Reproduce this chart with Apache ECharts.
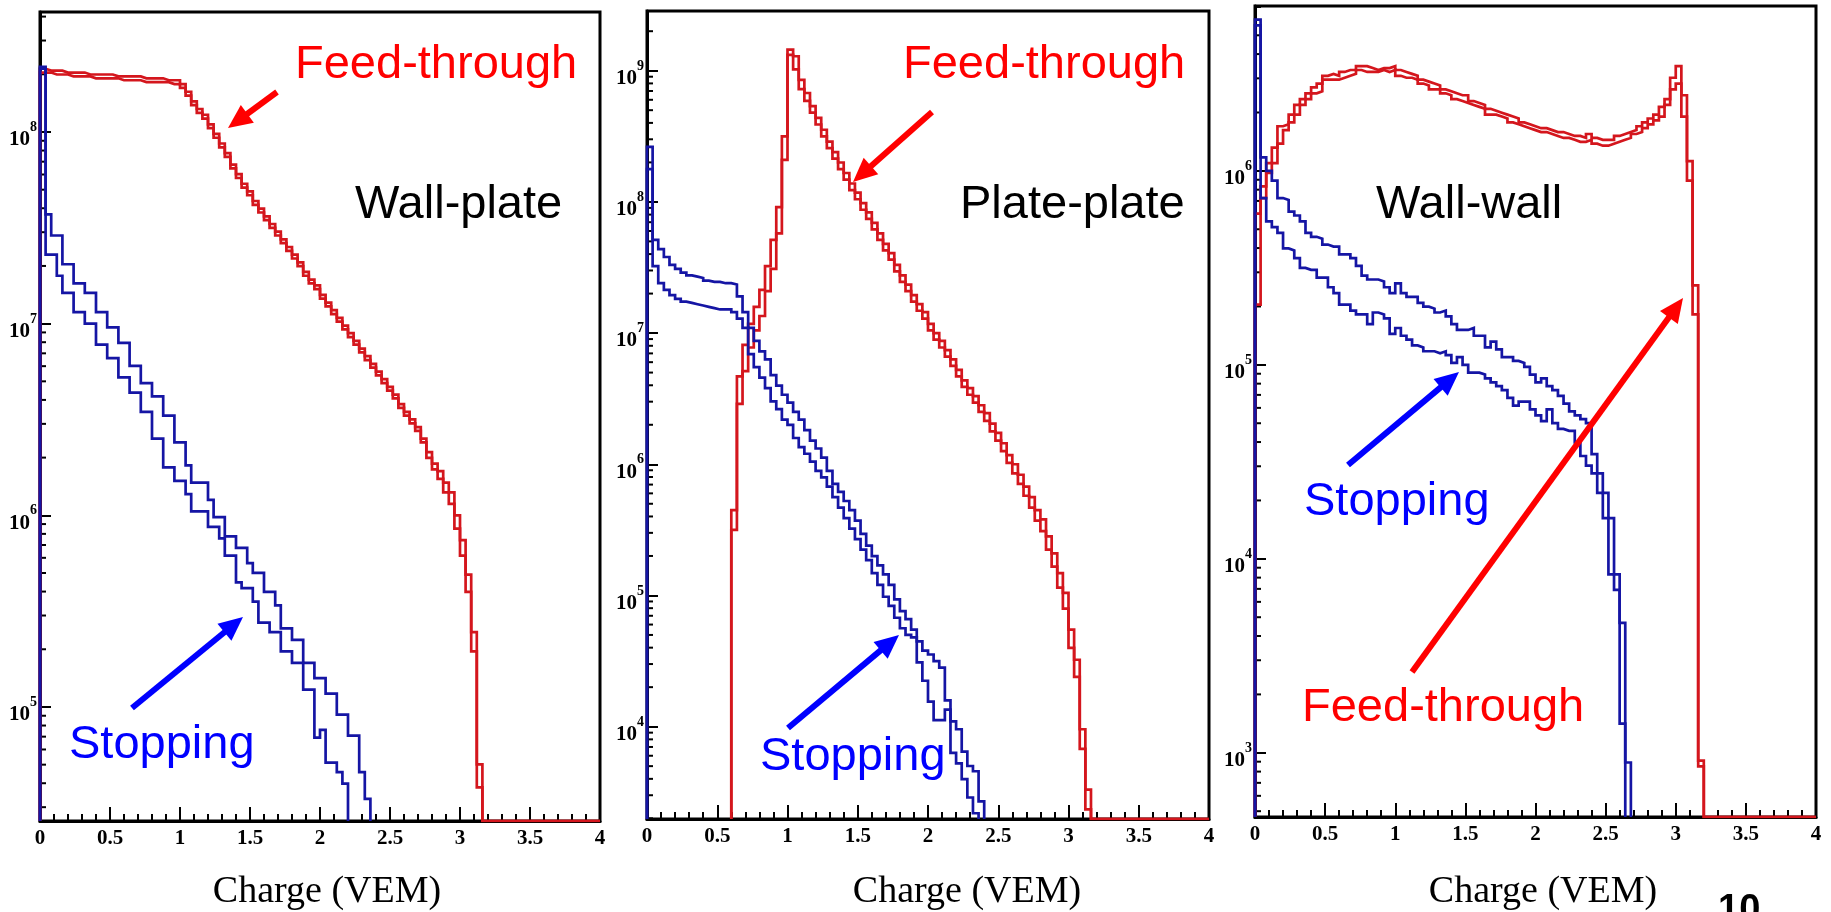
<!DOCTYPE html>
<html>
<head>
<meta charset="utf-8">
<script src="https://cdn.jsdelivr.net/npm/echarts@6/dist/echarts.min.js"></script>
<style>
  html, body { margin: 0; padding: 0; background: #ffffff; }
  #chart { width: 1831px; height: 912px; }
</style>
</head>
<body>
<div id="chart"></div>
<script>
// Charge spectra, 0.04 VEM bins starting at 0 VEM.
// Every entry is log10(counts) of one bin; null marks an empty bin.
const BIN_WIDTH = 0.04;
const CHARGE_MAX = 4;

const panelTitles = ['Wall-plate', 'Plate-plate', 'Wall-wall'];
const axisTitle = 'Charge (VEM)';
const chargeTickLabels = ['0', '0.5', '1', '1.5', '2', '2.5', '3', '3.5', '4'];

// ---- Wall-plate ----
const wallPlateFeedA = [
  8.33, 8.32, 8.32, 8.32, 8.31, 8.31, 8.31, 8.31, 8.30, 8.30,
  8.30, 8.30, 8.30, 8.29, 8.29, 8.29, 8.29, 8.29, 8.28, 8.28,
  8.28, 8.28, 8.27, 8.27, 8.27, 8.25, 8.21, 8.16, 8.12, 8.09,
  8.04, 7.99, 7.94, 7.89, 7.83, 7.78, 7.73, 7.69, 7.64, 7.60,
  7.56, 7.52, 7.48, 7.44, 7.40, 7.36, 7.32, 7.27, 7.23, 7.20,
  7.15, 7.11, 7.07, 7.03, 6.99, 6.95, 6.91, 6.87, 6.83, 6.79,
  6.75, 6.71, 6.67, 6.63, 6.58, 6.54, 6.50, 6.46, 6.40, 6.33,
  6.27, 6.23, 6.17, 6.12, 6.00, 5.87, 5.69, 5.39, 4.70
];
const wallPlateFeedB = [
  8.31, 8.31, 8.30, 8.30, 8.30, 8.29, 8.29, 8.29, 8.29, 8.28,
  8.28, 8.28, 8.28, 8.28, 8.27, 8.27, 8.27, 8.27, 8.26, 8.26,
  8.26, 8.26, 8.26, 8.25, 8.25, 8.23, 8.19, 8.14, 8.10, 8.07,
  8.02, 7.97, 7.92, 7.87, 7.81, 7.76, 7.71, 7.67, 7.62, 7.58,
  7.54, 7.50, 7.46, 7.42, 7.38, 7.34, 7.30, 7.25, 7.21, 7.18,
  7.13, 7.09, 7.05, 7.01, 6.97, 6.93, 6.89, 6.85, 6.81, 6.77,
  6.73, 6.69, 6.65, 6.61, 6.56, 6.52, 6.48, 6.44, 6.38, 6.30,
  6.24, 6.19, 6.12, 6.06, 5.93, 5.79, 5.60, 5.29, 4.58
];
const wallPlateStopA = [
  8.34, 7.57, 7.46, 7.46, 7.31, 7.31, 7.21, 7.21, 7.16, 7.16,
  7.06, 7.06, 6.98, 6.98, 6.90, 6.90, 6.78, 6.78, 6.69, 6.69,
  6.62, 6.62, 6.52, 6.52, 6.38, 6.38, 6.26, 6.17, 6.17, 6.17,
  6.08, 5.99, 5.99, 5.89, 5.89, 5.83, 5.83, 5.75, 5.70, 5.70,
  5.60, 5.60, 5.53, 5.41, 5.41, 5.35, 5.35, 5.23, 5.23, 5.15,
  5.15, 5.07, 5.07, 4.96, 4.96, 4.85, 4.85, 4.66, 4.52
];
const wallPlateStopB = [
  8.33, 7.36, 7.36, 7.25, 7.16, 7.16, 7.06, 7.06, 7.00, 7.00,
  6.89, 6.89, 6.82, 6.82, 6.72, 6.72, 6.64, 6.64, 6.54, 6.54,
  6.40, 6.40, 6.25, 6.25, 6.18, 6.18, 6.11, 6.02, 6.02, 6.02,
  5.94, 5.94, 5.88, 5.79, 5.79, 5.65, 5.62, 5.62, 5.55, 5.44,
  5.44, 5.39, 5.39, 5.29, 5.29, 5.23, 5.23, 5.09, 5.09, 4.84,
  4.88, 4.71, 4.71, 4.66, 4.60
];

// ---- Plate-plate ----
const platePlateFeedA = [
  null, null, null, null, null, null, null, null, null, null,
  null, null, null, null, null,
  5.65, 6.67, 6.91, 7.07, 7.20, 7.33, 7.51, 7.71, 7.96, 8.50,
  9.16, 9.11, 8.93, 8.83, 8.73, 8.64, 8.55, 8.46, 8.38, 8.30,
  8.22, 8.14, 8.07, 7.99, 7.92, 7.84, 7.76, 7.68, 7.61, 7.52,
  7.44, 7.37, 7.29, 7.22, 7.16, 7.07, 7.00, 6.94, 6.87, 6.80,
  6.72, 6.64, 6.58, 6.52, 6.45, 6.39, 6.31, 6.24, 6.16, 6.07,
  6.00, 5.92, 5.83, 5.75, 5.65, 5.58, 5.45, 5.32, 5.17, 5.02,
  4.74, 4.51, 3.98, 3.52
];
const platePlateFeedB = [
  null, null, null, null, null, null, null, null, null, null,
  null, null, null, null, null,
  5.50, 6.46, 6.71, 6.89, 7.02, 7.13, 7.32, 7.49, 7.76, 8.32,
  9.12, 9.01, 8.86, 8.77, 8.68, 8.59, 8.50, 8.41, 8.33, 8.25,
  8.17, 8.09, 8.02, 7.94, 7.87, 7.79, 7.71, 7.63, 7.56, 7.47,
  7.39, 7.32, 7.24, 7.17, 7.11, 7.02, 6.95, 6.89, 6.82, 6.75,
  6.67, 6.59, 6.53, 6.47, 6.40, 6.33, 6.25, 6.18, 6.10, 6.01,
  5.93, 5.85, 5.76, 5.67, 5.57, 5.49, 5.35, 5.22, 5.06, 4.90,
  4.60, 4.38, 3.83, 3.37
];
const platePlateStopA = [
  8.42, 7.71, 7.64, 7.58, 7.52, 7.49, 7.46, 7.44, 7.43, 7.42,
  7.40, 7.39, 7.39, 7.38, 7.38, 7.37, 7.28, 7.16, 7.04, 6.94,
  6.86, 6.80, 6.68, 6.60, 6.53, 6.47, 6.40, 6.34, 6.26, 6.18,
  6.12, 6.05, 5.95, 5.85, 5.79, 5.72, 5.65, 5.57, 5.47, 5.38,
  5.30, 5.23, 5.16, 5.08, 4.97, 4.88, 4.82, 4.74, 4.65, 4.58,
  4.55, 4.50, 4.45, 4.20, 4.04, 3.98, 3.81, 3.70, 3.66, 3.43
];
const platePlateStopB = [
  8.25, 7.51, 7.38, 7.33, 7.29, 7.26, 7.24, 7.23, 7.22, 7.21,
  7.20, 7.19, 7.18, 7.18, 7.18, 7.16, 7.11, 7.04, 6.84, 6.74,
  6.66, 6.58, 6.48, 6.42, 6.34, 6.30, 6.20, 6.13, 6.08, 6.02,
  5.95, 5.90, 5.83, 5.75, 5.67, 5.59, 5.51, 5.43, 5.35, 5.27,
  5.17, 5.08, 4.99, 4.92, 4.83, 4.75, 4.70, 4.68, 4.49, 4.35,
  4.19, 4.05, 4.05, 4.13, 3.80, 3.72, 3.60, 3.46, 3.34
];

// ---- Wall-wall ----
const wallWallFeedA = [
  5.78, 5.92, 6.04, 6.12, 6.23, 6.24, 6.29, 6.34, 6.37, 6.40,
  6.43, 6.45, 6.49, 6.50, 6.49, 6.51, 6.52, 6.52, 6.54, 6.54,
  6.53, 6.52, 6.53, 6.53, 6.54, 6.52, 6.51, 6.50, 6.49, 6.47,
  6.46, 6.45, 6.44, 6.42, 6.41, 6.40, 6.39, 6.39, 6.36, 6.35,
  6.34, 6.32, 6.31, 6.30, 6.29, 6.28, 6.27, 6.25, 6.24, 6.23,
  6.22, 6.22, 6.21, 6.20, 6.20, 6.19, 6.18, 6.18, 6.17, 6.19,
  6.17, 6.16, 6.16, 6.16, 6.18, 6.19, 6.20, 6.21, 6.23, 6.25,
  6.27, 6.29, 6.33, 6.37, 6.48, 6.54, 6.39, 6.05, 5.41, 2.96
];
const wallWallFeedB = [
  5.31, 5.86, 5.99, 6.04, 6.14, 6.21, 6.25, 6.29, 6.34, 6.37,
  6.40, 6.41, 6.47, 6.47, 6.47, 6.48, 6.49, 6.50, 6.52, 6.51,
  6.51, 6.51, 6.52, 6.51, 6.52, 6.49, 6.48, 6.48, 6.47, 6.45,
  6.44, 6.42, 6.42, 6.40, 6.39, 6.37, 6.36, 6.35, 6.34, 6.33,
  6.32, 6.29, 6.29, 6.28, 6.27, 6.25, 6.24, 6.23, 6.22, 6.21,
  6.20, 6.20, 6.19, 6.18, 6.17, 6.17, 6.16, 6.15, 6.15, 6.16,
  6.14, 6.13, 6.13, 6.14, 6.15, 6.16, 6.17, 6.19, 6.20, 6.22,
  6.24, 6.26, 6.28, 6.34, 6.42, 6.45, 6.28, 5.95, 5.26, 2.93
];
const wallWallStopA = [
  6.78, 6.07, 6.00, 5.95, 5.86, 5.85, 5.79, 5.77, 5.74, 5.68,
  5.66, 5.65, 5.62, 5.61, 5.61, 5.57, 5.57, 5.55, 5.51, 5.46,
  5.44, 5.44, 5.43, 5.40, 5.37, 5.42, 5.37, 5.35, 5.35, 5.32,
  5.30, 5.29, 5.27, 5.28, 5.25, 5.21, 5.18, 5.18, 5.19, 5.15,
  5.15, 5.09, 5.12, 5.08, 5.04, 5.04, 5.02, 5.01, 4.99, 4.95,
  4.91, 4.93, 4.89, 4.87, 4.84, 4.80, 4.76, 4.74, 4.72, 4.70,
  4.54, 4.44, 4.34, 4.21, 3.92, 3.67, 2.95
];
const wallWallStopB = [
  6.75, 5.86, 5.74, 5.71, 5.68, 5.60, 5.59, 5.55, 5.50, 5.49,
  5.49, 5.45, 5.45, 5.40, 5.37, 5.31, 5.31, 5.28, 5.26, 5.26,
  5.21, 5.27, 5.26, 5.24, 5.16, 5.19, 5.15, 5.13, 5.10, 5.09,
  5.07, 5.07, 5.06, 5.07, 5.05, 5.01, 5.04, 5.00, 4.96, 4.96,
  4.95, 4.93, 4.91, 4.89, 4.87, 4.83, 4.79, 4.81, 4.81, 4.77,
  4.74, 4.71, 4.77, 4.70, 4.67, 4.66, 4.66, 4.60, 4.53, 4.48,
  4.44, 4.34, 4.21, 3.92, 3.84, 3.15
];

// Visible log10 range of each panel's count axis
const countRanges = [[4.405, 8.626], [3.296, 9.455], [2.669, 6.85]];

const histograms = [
  { feed: [wallPlateFeedA, wallPlateFeedB], stop: [wallPlateStopA, wallPlateStopB] },
  { feed: [platePlateFeedA, platePlateFeedB], stop: [platePlateStopA, platePlateStopB] },
  { feed: [wallWallFeedA, wallWallFeedB], stop: [wallWallStopA, wallWallStopB] }
];

// ---- layout and style ----
const grids = [
  { left: 40, top: 12, width: 560, height: 809 },
  { left: 647, top: 11, width: 562, height: 808 },
  { left: 1255, top: 6, width: 561, height: 811 }
];
const FEED_LINE = '#d4161d';
const STOP_LINE = '#1515a4';
const RED = '#ff0000';
const BLUE = '#0000ff';

// Outline of a histogram: empty bins rest on the bottom of the frame.
function histogramOutline(logCounts, floorCount, runToEnd) {
  const first = logCounts.findIndex(v => v != null);
  const edge = i => Math.round(i * BIN_WIDTH * 1000) / 1000;
  const pts = [[edge(first), floorCount]];
  for (let i = first; i < logCounts.length; i++) {
    const v = logCounts[i];
    pts.push([edge(i), v == null ? floorCount : Math.pow(10, v)]);
  }
  pts.push([edge(logCounts.length), floorCount]);
  if (runToEnd) pts.push([CHARGE_MAX, floorCount]);
  return pts;
}

function minorCountTicks(lo, hi) {
  const out = [];
  for (let n = Math.floor(lo); n <= Math.ceil(hi); n++) {
    for (let k = 2; k <= 9; k++) {
      const lv = Math.log10(k) + n;
      if (lv > lo && lv < hi) out.push([0, Math.pow(10, lv)]);
    }
  }
  return out;
}

const serif = '"Liberation Serif", "Times New Roman", serif';
const sans = '"Liberation Sans", Arial, sans-serif';

const option = {
  animation: false,
  backgroundColor: '#ffffff',
  grid: grids.map(g => ({
    left: g.left, top: g.top, width: g.width, height: g.height,
    show: true, borderColor: '#000', borderWidth: 3,
    backgroundColor: 'transparent', containLabel: false, outerBoundsMode: 'none'
  })),
  xAxis: grids.map((g, i) => ({
    gridIndex: i, type: 'value', min: 0, max: CHARGE_MAX, interval: 0.5,
    axisLine: { show: true, onZero: false, lineStyle: { color: '#000', width: 3 } },
    axisTick: { show: true, inside: true, length: 14, lineStyle: { color: '#000', width: 2 } },
    minorTick: { show: true, splitNumber: 5, length: 7, lineStyle: { color: '#000', width: 2 } },
    splitLine: { show: false }, minorSplitLine: { show: false },
    axisLabel: {
      show: true, margin: 7, color: '#000', fontFamily: serif, fontWeight: 'bold', fontSize: 21,
      formatter: v => chargeTickLabels[Math.round(v / 0.5)] ?? ''
    }
  })),
  yAxis: grids.map((g, i) => ({
    gridIndex: i, type: 'log', logBase: 10,
    min: Math.pow(10, countRanges[i][0]), max: Math.pow(10, countRanges[i][1]),
    axisLine: { show: true, onZero: false, lineStyle: { color: '#000', width: 3 } },
    axisTick: { show: true, inside: true, length: 11, lineStyle: { color: '#000', width: 2 } },
    minorTick: { show: false }, splitLine: { show: false },
    axisLabel: {
      show: true, margin: 3, padding: [7, 0, 0, 0],
      formatter: v => {
        const e = Math.log10(v);
        const r = Math.round(e);
        return Math.abs(e - r) < 1e-6 ? '{b|10}{e|' + r + '}' : '';
      },
      rich: {
        b: { fontFamily: serif, fontWeight: 'bold', fontSize: 21, color: '#000', lineHeight: 30, height: 21, verticalAlign: 'bottom' },
        e: { fontFamily: serif, fontWeight: 'bold', fontSize: 14, color: '#000', lineHeight: 15, verticalAlign: 'top' }
      }
    }
  })),
  series: [],
  graphic: { elements: [] }
};

grids.forEach((g, i) => {
  const floorCount = Math.pow(10, countRanges[i][0]);
  option.series.push({
    type: 'custom', xAxisIndex: i, yAxisIndex: i, silent: true, clip: false,
    data: minorCountTicks(countRanges[i][0], countRanges[i][1]),
    encode: { x: 0, y: 1 },
    renderItem: (params, api) => {
      const p = api.coord([0, api.value(1)]);
      return { type: 'line', shape: { x1: p[0], y1: p[1], x2: p[0] + 6, y2: p[1] },
               style: { stroke: '#000', lineWidth: 2 } };
    }
  });
  const lineSeries = (data, color) => ({
    type: 'line', xAxisIndex: i, yAxisIndex: i, data: data, step: 'end',
    showSymbol: false, symbol: 'none', silent: true, clip: true, z: 3,
    lineStyle: { color: color, width: 2.7, join: 'miter', cap: 'butt' },
    itemStyle: { color: color }, emphasis: { disabled: true }
  });
  histograms[i].feed.forEach(h => option.series.push(lineSeries(histogramOutline(h, floorCount, true), FEED_LINE)));
  histograms[i].stop.forEach(h => option.series.push(lineSeries(histogramOutline(h, floorCount, false), STOP_LINE)));
});

// Annotation labels and arrows
const labels = [
  { text: 'Feed-through', x: 295, y: 65, color: RED },
  { text: panelTitles[0], x: 355, y: 205, color: '#000' },
  { text: 'Stopping', x: 69, y: 745, color: BLUE },
  { text: 'Feed-through', x: 903, y: 65, color: RED },
  { text: panelTitles[1], x: 960, y: 205, color: '#000' },
  { text: 'Stopping', x: 760, y: 757, color: BLUE },
  { text: panelTitles[2], x: 1376, y: 205, color: '#000' },
  { text: 'Stopping', x: 1304, y: 502, color: BLUE },
  { text: 'Feed-through', x: 1302, y: 708, color: RED }
];
const arrows = [
  { from: [277, 92], to: [228, 128], color: RED },
  { from: [132, 708], to: [243, 617], color: BLUE },
  { from: [932, 112], to: [853, 182], color: RED },
  { from: [788, 728], to: [899, 635], color: BLUE },
  { from: [1348, 465], to: [1459, 372], color: BLUE },
  { from: [1412, 672], to: [1683, 298], color: RED }
];
const axisTitleCenters = [327, 967, 1543];

labels.forEach(l => option.graphic.elements.push({
  type: 'text', x: l.x, y: l.y, z: 20, silent: true,
  style: { text: l.text, font: '47px ' + sans, fill: l.color, textAlign: 'left', textVerticalAlign: 'middle' }
}));
axisTitleCenters.forEach(cx => option.graphic.elements.push({
  type: 'text', x: cx, y: 892, z: 20, silent: true,
  style: { text: axisTitle, font: '38px ' + serif, fill: '#000', textAlign: 'center', textVerticalAlign: 'middle' }
}));
option.graphic.elements.push({
  type: 'text', x: 1718, y: 911, z: 20, silent: true,
  style: { text: '10', font: 'bold 38px ' + sans, fill: '#000', textAlign: 'left', textVerticalAlign: 'middle' }
});
arrows.forEach(a => {
  const dx = a.to[0] - a.from[0], dy = a.to[1] - a.from[1];
  const len = Math.hypot(dx, dy), ux = dx / len, uy = dy / len;
  const headLen = 24, headHalf = 11;
  const bx = a.to[0] - ux * headLen, by = a.to[1] - uy * headLen;
  option.graphic.elements.push({
    type: 'line', z: 20, silent: true,
    shape: { x1: a.from[0], y1: a.from[1], x2: bx + ux * 2, y2: by + uy * 2 },
    style: { stroke: a.color, lineWidth: 6 }
  });
  option.graphic.elements.push({
    type: 'polygon', z: 20, silent: true,
    shape: { points: [[a.to[0], a.to[1]], [bx - uy * headHalf, by + ux * headHalf], [bx + uy * headHalf, by - ux * headHalf]] },
    style: { fill: a.color }
  });
});

const chart = echarts.init(document.getElementById('chart'), null, { renderer: 'canvas' });
chart.setOption(option);
</script>
</body>
</html>
